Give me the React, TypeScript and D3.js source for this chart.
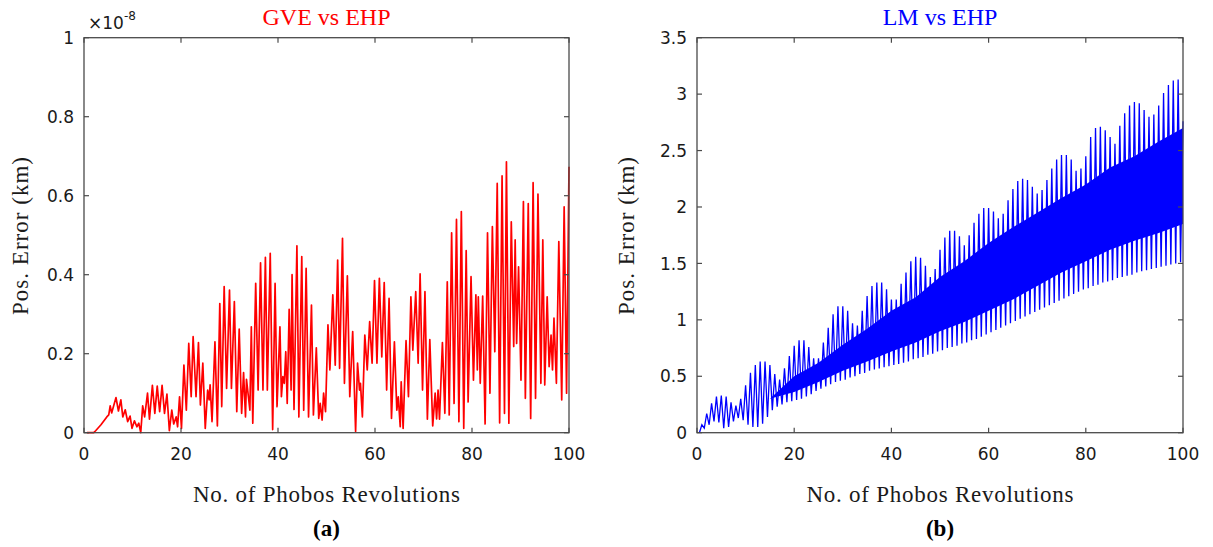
import React from 'react';
import * as d3 from 'd3';

const W = 1213;
const H = 547;

// ---------- Panel (a): GVE vs EHP (values in units of 1e-8 km) ----------
const gveRev = [
  0.6, 2.0, 2.4, 3.5, 4.7, 5.1, 5.4, 5.7, 6.6, 7.1, 7.6, 8.0, 8.5, 9.0, 9.5, 9.9, 10.4, 10.9, 11.3, 11.7,
  12.1, 12.5, 13.1, 13.5, 14.1, 14.6, 15.1, 15.6, 16.1, 16.6, 17.1, 17.6, 18.1, 18.5, 19.0, 19.3, 19.7, 20.1,
  20.6, 21.1, 21.6, 22.1, 22.5, 23.1, 23.6, 24.0, 24.5, 25.0, 25.5, 25.8, 26.0, 26.4, 27.0, 27.5, 28.0, 28.4,
  28.9, 29.4, 30.0, 30.4, 31.0, 31.5, 32.0, 32.5, 32.9, 33.3, 33.5, 33.9, 34.2, 34.5, 34.8, 35.4, 35.9, 36.4,
  36.9, 37.4, 37.8, 38.4, 38.9, 39.4, 39.8, 40.4, 40.7, 41.0, 41.3, 41.6, 41.9, 42.3, 42.7, 42.9, 43.3, 43.9,
  44.3, 44.9, 45.3, 45.8, 46.3, 46.9, 47.3, 47.9, 48.4, 48.7, 49.1, 49.4, 49.8, 50.3, 50.7, 51.3, 51.8, 52.3,
  52.7, 53.3, 53.7, 54.3, 54.8, 55.4, 56.0, 56.4, 56.8, 57.0, 57.4, 57.9, 58.4, 58.9, 59.4, 59.9, 60.4, 60.9,
  61.4, 61.9, 62.4, 62.9, 63.4, 64.0, 64.5, 64.8, 65.2, 65.4, 65.8, 66.4, 66.9, 67.4, 67.8, 68.4, 68.9, 69.3,
  69.8, 70.3, 70.8, 71.3, 71.9, 72.4, 72.7, 73.0, 73.3, 73.9, 74.4, 74.9, 75.3, 75.8, 76.3, 76.8, 77.3, 77.8,
  78.3, 78.8, 79.2, 79.8, 80.3, 80.8, 81.1, 81.3, 81.7, 82.2, 82.7, 83.2, 83.7, 84.2, 84.7, 85.2, 85.7, 86.2,
  86.7, 87.1, 87.6, 88.1, 88.6, 88.9, 89.2, 89.6, 90.1, 90.6, 91.0, 91.6, 92.1, 92.6, 93.1, 93.6, 94.2, 94.6,
  95.0, 95.5, 95.9, 96.3, 96.6, 96.9, 97.4, 97.9, 98.5, 99.0, 99.5, 100.0,
];
const gveVal = [
  0, 0, 0.005, 0.02, 0.04, 0.045, 0.068, 0.05, 0.089, 0.055, 0.083, 0.04, 0.058, 0.028, 0.042, 0.011, 0.03, 0.015, 0.024, 0,
  0.068, 0.04, 0.1, 0.034, 0.12, 0.049, 0.118, 0.053, 0.12, 0.049, 0.098, 0.005, 0.057, 0.022, 0.04, 0.015, 0.091, 0.011,
  0.171, 0.057, 0.226, 0.091, 0.243, 0.091, 0.228, 0.07, 0.176, 0.011, 0.108, 0.083, 0.121, 0.028, 0.23, 0.017, 0.327, 0.066,
  0.37, 0.112, 0.361, 0.112, 0.332, 0.053, 0.262, 0.049, 0.152, 0.04, 0.135, 0.091, 0.057, 0.268, 0.024, 0.378, 0.108, 0.43,
  0.108, 0.444, 0.108, 0.454, 0.008, 0.378, 0.066, 0.268, 0.091, 0.142, 0.125, 0.205, 0.074, 0.312, 0.108, 0.4, 0.059, 0.473,
  0.04, 0.446, 0.057, 0.416, 0.04, 0.323, 0.045, 0.215, 0.036, 0.074, 0.032, 0.1, 0.053, 0.273, 0.159, 0.349, 0.171, 0.437,
  0.163, 0.492, 0.125, 0.397, 0.091, 0.256, 0.003, 0.176, 0.108, 0.125, 0.04, 0.247, 0.159, 0.281, 0.176, 0.385, 0.176, 0.391,
  0.192, 0.38, 0.108, 0.34, 0.036, 0.23, 0.057, 0.091, 0.015, 0.129, 0.011, 0.233, 0.091, 0.344, 0.209, 0.357, 0.176, 0.402,
  0.108, 0.357, 0.034, 0.236, 0.017, 0.1, 0.035, 0.108, 0.034, 0.228, 0.049, 0.382, 0.045, 0.506, 0.074, 0.54, 0.028, 0.56,
  0.011, 0.461, 0.078, 0.395, 0.133, 0.349, 0.159, 0.344, 0.125, 0.346, 0.022, 0.506, 0.1, 0.522, 0.205, 0.631, 0.025, 0.65,
  0.049, 0.686, 0.024, 0.534, 0.218, 0.488, 0.226, 0.42, 0.133, 0.585, 0.087, 0.58, 0.036, 0.633, 0.087, 0.604, 0.125, 0.488,
  0.121, 0.344, 0.167, 0.247, 0.159, 0.29, 0.125, 0.484, 0.083, 0.572, 0.1, 0.673,
];

// ---------- Panel (b): LM vs EHP (km) ----------
const lmPeakRev = d3.range(1, 101);
const lmPeak = [
  0.07, 0.17, 0.26, 0.32, 0.33, 0.32, 0.27, 0.24, 0.30, 0.42,
  0.53, 0.60, 0.63, 0.63, 0.60, 0.52, 0.47, 0.57, 0.68, 0.77,
  0.82, 0.82, 0.76, 0.66, 0.66, 0.80, 0.93, 1.05, 1.12, 1.12,
  1.08, 0.97, 0.95, 1.08, 1.21, 1.30, 1.33, 1.33, 1.27, 1.18,
  1.18, 1.32, 1.42, 1.52, 1.56, 1.55, 1.48, 1.38, 1.45, 1.62,
  1.73, 1.79, 1.79, 1.74, 1.66, 1.75, 1.86, 1.94, 1.99, 1.99,
  1.96, 1.90, 1.94, 2.06, 2.16, 2.23, 2.25, 2.24, 2.18, 2.12,
  2.15, 2.24, 2.34, 2.42, 2.46, 2.46, 2.42, 2.32, 2.34, 2.45,
  2.62, 2.70, 2.71, 2.68, 2.62, 2.56, 2.72, 2.83, 2.90, 2.93,
  2.92, 2.86, 2.80, 2.82, 2.90, 3.01, 3.08, 3.12, 3.13, 2.76,
];
const lmTroughRev = d3.range(0.5, 100, 1);
const lmTrough = [
  0.0, 0.04, 0.07, 0.10, 0.09, 0.04, 0.05, 0.10, 0.13, 0.11,
  0.07, 0.05, 0.05, 0.08, 0.14, 0.20, 0.23, 0.25, 0.27, 0.28,
  0.29, 0.30, 0.32, 0.34, 0.37, 0.39, 0.41, 0.43, 0.45, 0.46,
  0.47, 0.49, 0.50, 0.52, 0.53, 0.55, 0.56, 0.57, 0.58, 0.59,
  0.60, 0.61, 0.62, 0.63, 0.65, 0.66, 0.67, 0.69, 0.70, 0.72,
  0.73, 0.75, 0.76, 0.77, 0.79, 0.80, 0.82, 0.83, 0.85, 0.87,
  0.89, 0.91, 0.93, 0.95, 0.97, 0.99, 1.01, 1.03, 1.05, 1.07,
  1.09, 1.11, 1.13, 1.15, 1.17, 1.19, 1.21, 1.23, 1.25, 1.27,
  1.28, 1.30, 1.31, 1.33, 1.34, 1.35, 1.37, 1.38, 1.39, 1.40,
  1.42, 1.43, 1.44, 1.45, 1.46, 1.47, 1.48, 1.49, 1.50, 1.51,
];
// dense (solid) part of the LM band
const lmBandRev = [15, 20, 25, 30, 35, 40, 45, 50, 55, 60, 65, 70, 75, 80, 85, 90, 95, 100];
const lmBandTop = [0.3, 0.5, 0.62, 0.78, 0.92, 1.08, 1.2, 1.38, 1.52, 1.68, 1.82, 1.95, 2.08, 2.2, 2.35, 2.45, 2.58, 2.7];
const lmBandBottom = [0.3, 0.36, 0.45, 0.55, 0.63, 0.72, 0.8, 0.9, 0.98, 1.08, 1.18, 1.3, 1.42, 1.52, 1.62, 1.7, 1.77, 1.85];

// ---------- Axes ----------
const xTicks = [0, 20, 40, 60, 80, 100];
const yTicksA = [0, 0.2, 0.4, 0.6, 0.8, 1];
const yTicksB = [0, 0.5, 1, 1.5, 2, 2.5, 3, 3.5];

const SERIF = '"Liberation Serif", "Times New Roman", serif';
const SANS = '"DejaVu Sans", sans-serif';
const AXIS = '#4a4a4a';

type PanelProps = {
  x0: number; x1: number; y0: number; y1: number;
  yMax: number; yTicks: number[];
  title: string; color: string;
  ylabelX: number; caption: string;
  exponent?: boolean;
  render: (x: d3.ScaleLinear<number, number>, y: d3.ScaleLinear<number, number>) => React.ReactNode;
};

function Panel(p: PanelProps) {
  const x = d3.scaleLinear().domain([0, 100]).range([p.x0, p.x1]);
  const y = d3.scaleLinear().domain([0, p.yMax]).range([p.y1, p.y0]);
  const cx = (p.x0 + p.x1) / 2;
  const tl = 5;
  return (
    <g>
      <text x={cx} y={25} textAnchor="middle" fontFamily={SERIF} fontSize={24} fill={p.color}>{p.title}</text>
      {p.render(x, y)}
      <rect x={p.x0} y={p.y0} width={p.x1 - p.x0} height={p.y1 - p.y0} fill="none" stroke={AXIS} strokeWidth={1.3} />
      {xTicks.map((t) => (
        <g key={'x' + t}>
          <line x1={x(t)} x2={x(t)} y1={p.y1} y2={p.y1 - tl} stroke={AXIS} strokeWidth={1.2} />
          <line x1={x(t)} x2={x(t)} y1={p.y0} y2={p.y0 + tl} stroke={AXIS} strokeWidth={1.2} />
          <text x={x(t)} y={460} textAnchor="middle" fontFamily={SANS} fontSize={17} fill="#1a1a1a">{t}</text>
        </g>
      ))}
      {p.yTicks.map((t) => (
        <g key={'y' + t}>
          <line x1={p.x0} x2={p.x0 + tl} y1={y(t)} y2={y(t)} stroke={AXIS} strokeWidth={1.2} />
          <line x1={p.x1} x2={p.x1 - tl} y1={y(t)} y2={y(t)} stroke={AXIS} strokeWidth={1.2} />
          <text x={p.x0 - 10} y={y(t)} dy="0.36em" textAnchor="end" fontFamily={SANS} fontSize={17} fill="#1a1a1a">{String(t)}</text>
        </g>
      ))}
      {p.exponent && (
        <text x={p.x0 + 4} y={29} fontFamily={SANS} fontSize={17} fill="#1a1a1a">
          ×10<tspan dy={-9} fontSize={12}>-8</tspan>
        </text>
      )}
      <text x={cx} y={502} textAnchor="middle" fontFamily={SERIF} fontSize={23} textLength={267} lengthAdjust="spacing" fill="#1a1a1a">No. of Phobos Revolutions</text>
      <text transform={`translate(${p.ylabelX},236) rotate(-90)`} textAnchor="middle" fontFamily={SERIF} fontSize={23} textLength={158} lengthAdjust="spacing" fill="#1a1a1a">Pos. Error (km)</text>
      <text x={cx} y={536} textAnchor="middle" fontFamily={SERIF} fontWeight="bold" fontSize={23} fill="#000">{p.caption}</text>
    </g>
  );
}

export default function App() {
  const gvePts: [number, number][] = gveRev.map((r, i) => [r, gveVal[i]]);
  const lmPts: [number, number][] = [];
  lmPeakRev.forEach((r, i) => {
    lmPts.push([lmTroughRev[i], lmTrough[i]]);
    lmPts.push([r, lmPeak[i]]);
  });
  const band = lmBandRev.map((r, i) => ({ r, lo: lmBandBottom[i], hi: lmBandTop[i] }));

  return (
    <svg width={W} height={H} style={{ position: 'absolute', left: 0, top: 0, background: '#fff' }}>
      <rect width={W} height={H} fill="#fff" />
      <Panel
        x0={84} x1={569} y0={37.7} y1={432.7} yMax={1} yTicks={yTicksA}
        title="GVE vs EHP" color="#ff0000" ylabelX={28} caption="(a)" exponent
        render={(x, y) => {
          const line = d3.line<[number, number]>().x((d) => x(d[0])).y((d) => y(d[1]));
          return <path d={line(gvePts) || ''} fill="none" stroke="#ff0000" strokeWidth={1.7} strokeLinejoin="round" />;
        }}
      />
      <Panel
        x0={697} x1={1183} y0={37.7} y1={432.7} yMax={3.5} yTicks={yTicksB}
        title="LM vs EHP" color="#0000ff" ylabelX={634} caption="(b)"
        render={(x, y) => {
          const area = d3.area<{ r: number; lo: number; hi: number }>()
            .x((d) => x(d.r)).y0((d) => y(d.lo)).y1((d) => y(d.hi));
          const line = d3.line<[number, number]>().x((d) => x(d[0])).y((d) => y(d[1]));
          return (
            <g>
              <path d={area(band) || ''} fill="#0000ff" />
              <path d={line(lmPts) || ''} fill="none" stroke="#0000ff" strokeWidth={1.3} strokeLinejoin="miter" />
            </g>
          );
        }}
      />
    </svg>
  );
}
